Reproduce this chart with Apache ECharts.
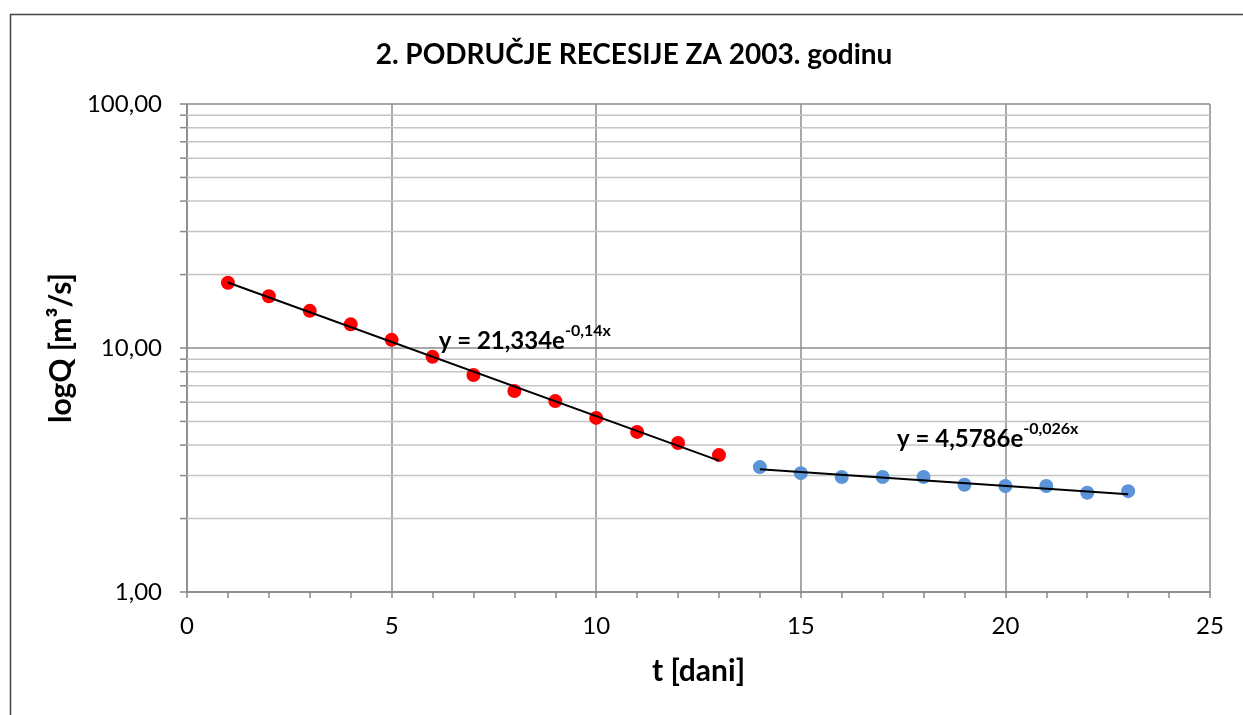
<!DOCTYPE html>
<html>
<head>
<meta charset="utf-8">
<script src="https://cdn.jsdelivr.net/npm/echarts@6/dist/echarts.min.js"></script>
<style>
  html, body { margin: 0; padding: 0; background: #fff; }
  #chart { width: 1243px; height: 715px; }
</style>
</head>
<body>
<div id="chart"></div>
<script>
// Recession period: daily discharge (m³/s) over time in days
const daysFast = [1, 2, 3, 4, 5, 6, 7, 8, 9, 10, 11, 12, 13];
const flowFast = [18.5, 16.3, 14.2, 12.5, 10.8, 9.2, 7.75, 6.66, 6.06, 5.17, 4.53, 4.08, 3.64];
const daysSlow = [14, 15, 16, 17, 18, 19, 20, 21, 22, 23];
const flowSlow = [3.25, 3.07, 2.96, 2.96, 2.96, 2.75, 2.72, 2.72, 2.55, 2.59];

// Exponential trend lines y = a·e^(b·x), as stated in the equation labels
const trendFast = { a: 21.334, b: -0.14, from: 1, to: 13, text: ['21,334', '-0,14x'] };
const trendSlow = { a: 4.5786, b: -0.026, from: 14, to: 23, text: ['4,5786', '-0,026x'] };

// Label anchor points (data coordinates)
const labelFastAt = [6.15, 11.0];
const labelSlowAt = [17.35, 4.35];

const xTicks = [0, 5, 10, 15, 20, 25];
const yMajor = [1, 10, 100];
const yMinor = [2, 3, 4, 5, 6, 7, 8, 9, 20, 30, 40, 50, 60, 70, 80, 90];

const FONT = 'Lato, "Liberation Sans", sans-serif';

function trendPoints(t) {
  return [t.from, t.to].map(x => [x, t.a * Math.exp(t.b * x)]);
}

function eqLabel(t) {
  return '{b|y = ' + t.text[0] + 'e}{s|' + t.text[1] + '}';
}

const eqRich = {
  b: { fontFamily: FONT, fontWeight: 'bold', fontSize: 24, color: '#000', verticalAlign: 'bottom', lineHeight: 30,
       textBorderWidth: 0 },
  s: { fontFamily: FONT, fontWeight: 'bold', fontSize: 16, color: '#000', verticalAlign: 'top', lineHeight: 30,
       padding: [0, 0, 12, 0], textBorderWidth: 0 }
};

const chart = echarts.init(document.getElementById('chart'), null, { renderer: 'canvas' });

chart.setOption({
  animation: false,
  backgroundColor: '#fff',
  title: {
    text: '2. PODRUČJE RECESIJE ZA 2003. godinu',
    left: 629, top: 36, textAlign: 'center',
    textStyle: { fontFamily: FONT, fontWeight: 'bold', fontSize: 28, color: '#000' }
  },
  graphic: [{
    type: 'rect', left: 8, top: 12, silent: true,
    shape: { width: 1400, height: 900 },
    style: { fill: 'none', stroke: '#444', lineWidth: 1.5 }
  }],
  grid: { left: 187, right: 33, top: 104, bottom: 123 },
  xAxis: {
    type: 'value', min: 0, max: 25, interval: 5,
    name: 't [dani]', nameLocation: 'middle', nameGap: 64,
    nameTextStyle: { fontFamily: FONT, fontWeight: 'bold', fontSize: 30, color: '#000' },
    axisLine: { show: true, lineStyle: { color: '#888', width: 1.5 } },
    axisTick: { show: true, inside: false, length: 6, lineStyle: { color: '#888', width: 1.5 } },
    minorTick: { show: true, splitNumber: 5, length: 6, lineStyle: { color: '#888', width: 1.5 } },
    axisLabel: {
      fontFamily: FONT, fontSize: 24, color: '#000', margin: 22,
      formatter: v => xTicks.includes(v) ? String(v) : ''
    },
    splitLine: { show: true, lineStyle: { color: '#8c8c8c', width: 1.5 } }
  },
  yAxis: {
    type: 'log', logBase: 10, min: 1, max: 100,
    name: 'logQ [m³/s]', nameLocation: 'middle', nameGap: 108, nameRotate: 90,
    nameTextStyle: { fontFamily: FONT, fontWeight: 'bold', fontSize: 30, color: '#000' },
    axisLine: { show: true, onZero: false, lineStyle: { color: '#888', width: 1.5 } },
    axisTick: { show: true, inside: false, length: 7, lineStyle: { color: '#888', width: 1.5 } },
    axisLabel: {
      fontFamily: FONT, fontSize: 24, color: '#000', margin: 25,
      formatter: v => yMajor.includes(v) ? v.toFixed(2).replace('.', ',') : ''
    },
    splitLine: { show: true, lineStyle: { color: '#8c8c8c', width: 1.5 } }
  },
  series: [
    {
      // minor log gridlines with their outside ticks
      type: 'custom', silent: true, z: 1,
      data: yMinor.map(v => [0, v]),
      renderItem: function (params, api) {
        const p = api.coord([0, api.value(1)]);
        const cs = params.coordSys;
        return {
          type: 'group',
          children: [
            { type: 'line', shape: { x1: cs.x, y1: p[1], x2: cs.x + cs.width, y2: p[1] },
              style: { stroke: '#c4c4c4', lineWidth: 1.5 } },
            { type: 'line', shape: { x1: cs.x - 7, y1: p[1], x2: cs.x, y2: p[1] },
              style: { stroke: '#888', lineWidth: 1.5 } }
          ]
        };
      }
    },
    {
      type: 'line', name: 'trend1', data: trendPoints(trendFast), z: 3,
      symbol: 'none', lineStyle: { color: '#000', width: 2 }, silent: true
    },
    {
      type: 'line', name: 'trend2', data: trendPoints(trendSlow), z: 3,
      symbol: 'none', lineStyle: { color: '#000', width: 2 }, silent: true
    },
    {
      type: 'scatter', name: 'Q1', z: 2,
      data: daysFast.map((d, i) => [d, flowFast[i]]),
      symbolSize: 14, itemStyle: { color: '#ff0000', opacity: 1 }
    },
    {
      type: 'scatter', name: 'Q2', z: 2,
      data: daysSlow.map((d, i) => [d, flowSlow[i]]),
      symbolSize: 14, itemStyle: { color: '#5b94d8', opacity: 1 }
    },
    {
      type: 'scatter', name: 'labels', z: 4, silent: true,
      symbolSize: 0, itemStyle: { opacity: 1 },
      data: [
        { value: labelFastAt, label: { formatter: eqLabel(trendFast) } },
        { value: labelSlowAt, label: { formatter: eqLabel(trendSlow) } }
      ],
      label: { show: true, position: 'right', distance: 0, color: '#000', textBorderWidth: 0, rich: eqRich }
    }
  ]
});
</script>
</body>
</html>
